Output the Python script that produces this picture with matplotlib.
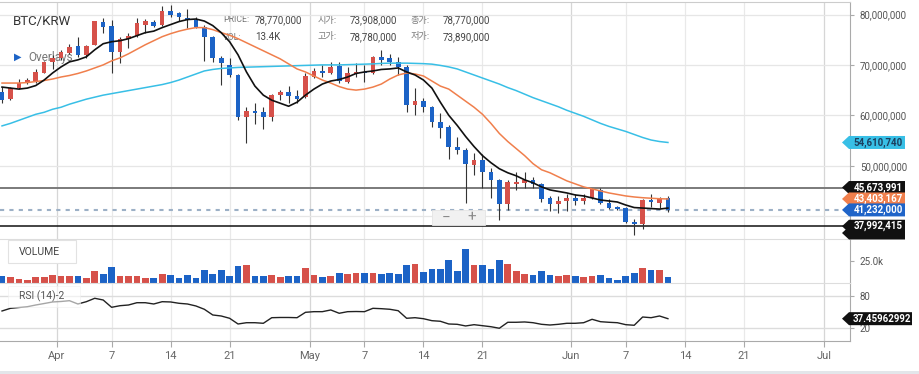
import numpy as np
import pandas as pd
import matplotlib
matplotlib.use('Agg')
import matplotlib.pyplot as plt
from matplotlib.patches import Polygon, Rectangle
from matplotlib.transforms import IdentityTransform

plt.rcParams['font.family'] = ['Roboto', 'DejaVu Sans']
KR = ['Noto Sans CJK KR', 'DejaVu Sans']

# daily candles BTC/KRW, 2021-03-25 .. 2021-06-12, prices in millions of KRW
start = '2021-03-25'
dates = pd.date_range(start, '2021-06-12', freq='D')

opens = [64.7, 63.2, 65.4, 66.4, 66.8, 68.4, 70.6, 71.4, 72.4, 73.8,
         72.0, 73.908, 78.6, 77.8, 72.6, 75.2, 75.8, 78.0, 78.6, 78.0,
         80.6, 80.2, 79.4, 79.0, 77.6, 75.6, 71.4, 70.0, 68.0, 59.6,
         60.8, 60.6, 59.6, 64.0, 64.6, 63.8, 63.6, 67.6, 68.8, 68.4,
         69.8, 66.6, 68.2, 68.5, 68.4, 71.6, 71.4, 70.6, 69.6, 62.0,
         62.8, 61.6, 58.6, 57.6, 53.8, 53.2, 50.2, 51.2, 48.8, 47.2,
         42.4, 46.4, 46.6, 47.2, 46.4, 43.6, 42.4, 43.0, 43.6, 43.0,
         43.6, 45.2, 42.6, 41.8, 41.6, 38.8, 38.4, 43.2, 42.6, 43.6]
highs = [65.6, 65.6, 67.2, 67.4, 69.2, 70.8, 72.0, 73.0, 74.2, 75.6,
         74.0, 78.78, 79.4, 79.0, 75.6, 76.4, 79.4, 79.2, 79.0, 81.6,
         81.8, 80.4, 81.0, 79.6, 78.0, 75.8, 71.8, 71.4, 68.2, 61.6,
         62.4, 61.6, 64.2, 65.0, 65.8, 65.0, 68.4, 69.4, 70.0, 70.6,
         70.6, 69.6, 70.4, 70.0, 71.8, 73.0, 72.2, 71.6, 70.0, 65.4,
         63.4, 61.8, 60.4, 58.0, 55.6, 53.6, 52.6, 52.4, 49.6, 47.4,
         47.2, 48.8, 48.8, 47.8, 46.6, 44.0, 44.0, 44.4, 44.4, 44.4,
         45.6, 45.6, 43.4, 42.0, 41.8, 39.4, 43.4, 44.4, 43.8, 44.0]
lows = [62.4, 63.0, 65.2, 66.3, 66.4, 68.3, 69.2, 71.0, 72.2, 71.6,
        71.4, 73.89, 76.4, 68.4, 70.4, 73.4, 75.6, 76.4, 77.6, 77.8,
        79.6, 78.8, 77.4, 77.4, 70.8, 70.6, 66.0, 67.6, 59.0, 54.6,
        58.2, 57.2, 58.8, 63.0, 62.4, 62.4, 63.4, 67.4, 67.6, 68.2,
        66.4, 66.4, 67.6, 66.6, 68.2, 70.0, 70.0, 68.0, 60.6, 60.0,
        60.6, 57.6, 55.4, 51.4, 52.4, 42.6, 48.2, 45.6, 43.6, 39.2,
        41.2, 45.2, 45.6, 45.6, 42.8, 41.0, 40.6, 41.0, 42.2, 42.4,
        43.4, 42.4, 41.4, 41.2, 38.6, 36.2, 37.4, 41.8, 41.6, 40.8]
closes = [63.0, 65.4, 66.4, 67.0, 68.6, 70.6, 71.4, 72.6, 73.6, 72.0,
          73.8, 78.77, 77.6, 72.6, 75.2, 75.8, 78.4, 78.8, 77.8, 80.6,
          80.0, 79.6, 79.0, 77.6, 75.6, 71.4, 70.4, 68.0, 59.6, 60.8,
          60.4, 59.6, 64.0, 64.6, 63.8, 63.2, 67.8, 68.8, 68.4, 69.6,
          66.8, 68.4, 68.6, 68.3, 71.6, 71.0, 70.6, 69.6, 62.0, 62.8,
          61.6, 58.6, 57.4, 53.8, 53.2, 50.4, 51.2, 48.8, 47.2, 42.4,
          46.8, 46.8, 47.2, 46.4, 43.4, 42.4, 43.0, 43.6, 43.0, 43.6,
          45.4, 42.6, 41.6, 41.4, 38.8, 38.4, 43.2, 42.8, 43.6, 41.232]
volume_k = [8.2, 6.7, 4.5, 3.4, 7.1, 7.1, 9.3, 8.2, 8.2, 8.2,
            6.0, 13.4, 10.4, 18.3, 8.2, 8.2, 8.2, 6.0, 6.0, 10.4,
            9.3, 6.0, 9.3, 6.0, 14.9, 10.4, 14.9, 8.2, 19.4, 20.5,
            8.2, 8.2, 9.3, 7.1, 8.2, 8.2, 17.2, 9.3, 7.1, 8.2,
            11.6, 10.4, 11.6, 11.6, 11.6, 10.4, 11.6, 10.4, 20.5, 21.6,
            12.7, 16.0, 16.0, 26.1, 13.8, 38.4, 20.9, 20.9, 16.0, 26.1,
            22.0, 13.8, 10.4, 9.3, 13.8, 9.3, 8.2, 9.3, 8.2, 7.1,
            8.2, 9.3, 6.0, 3.7, 8.2, 11.6, 17.2, 14.9, 14.9, 7.1]

# overlays
ma_black = [65.6, 65.4, 65.2, 65.4, 65.9, 67.0, 68.4, 69.6, 70.6, 71.0,
            71.6, 73.0, 74.2, 74.6, 74.8, 75.2, 75.8, 76.4, 76.7, 77.4,
            78.0, 78.6, 79.0, 79.1, 78.7, 77.8, 76.4, 74.6, 72.0, 68.6,
            65.8, 64.0, 63.0, 62.4, 61.8, 62.6, 64.0, 65.2, 66.2, 66.8,
            67.1, 67.6, 68.3, 68.6, 68.8, 69.1, 69.2, 69.4, 68.6, 68.0,
            67.0, 65.4, 62.6, 60.0, 58.0, 55.8, 53.8, 52.0, 50.6, 49.4,
            48.6, 48.0, 47.2, 46.6, 45.8, 45.2, 44.9, 44.6, 44.2, 44.0,
            43.6, 43.2, 43.0, 42.8, 42.2, 41.7, 41.6, 41.5, 41.4, 41.6]
ma_orange = [66.4, 66.4, 66.4, 66.5, 66.7, 66.9, 67.2, 67.6, 67.9, 68.3,
             68.8, 69.4, 70.0, 70.8, 71.4, 72.2, 73.1, 74.0, 74.8, 75.6,
             76.2, 76.7, 77.1, 77.4, 77.4, 77.0, 76.4, 75.9, 75.2, 74.4,
             73.6, 72.8, 72.0, 71.2, 70.2, 69.2, 68.6, 67.8, 67.0, 66.4,
             65.7, 65.2, 65.0, 65.2, 65.6, 66.2, 67.2, 68.0, 68.4, 68.2,
             67.8, 66.8, 65.8, 65.2, 64.0, 62.8, 61.6, 60.2, 58.4, 56.4,
             54.8, 53.4, 52.0, 50.4, 49.2, 48.6, 47.8, 47.0, 46.4, 45.8,
             45.4, 45.0, 44.6, 44.3, 44.0, 43.8, 43.65, 43.55, 43.45, 43.403167]
ma_cyan = [57.9, 58.4, 59.0, 59.6, 60.2, 60.6, 61.2, 61.6, 62.2, 62.7,
           63.2, 63.6, 64.0, 64.3, 64.6, 64.9, 65.2, 65.5, 65.8, 66.1,
           66.5, 67.0, 67.6, 68.2, 68.8, 69.1, 69.3, 69.4, 69.5, 69.55,
           69.6, 69.65, 69.7, 69.75, 69.8, 69.85, 69.9, 69.95, 70.0, 70.0,
           70.0, 70.05, 70.1, 70.15, 70.2, 70.3, 70.35, 70.35, 70.35, 70.3,
           70.25, 70.15, 69.9, 69.6, 69.2, 68.6, 68.0, 67.4, 66.8, 66.2,
           65.5, 64.9, 64.2, 63.5, 62.9, 62.3, 61.7, 61.0, 60.4, 59.8,
           59.1, 58.4, 57.8, 57.3, 56.8, 56.2, 55.6, 55.1, 54.8, 54.61074]
rsi = [51.9, 56.9, 58.4, 59.9, 63.1, 65.9, 68.8, 69.7, 71.2, 65.0,
       69.3, 75.7, 72.5, 58.8, 61.8, 63.1, 67.4, 67.4, 65.0, 69.3,
       68.8, 66.3, 65.0, 61.3, 55.1, 44.4, 42.5, 38.2, 27.5, 29.9,
       29.9, 28.8, 39.3, 39.7, 39.7, 39.3, 49.4, 50.6, 50.6, 53.8,
       47.6, 50.6, 50.9, 50.6, 56.9, 56.2, 55.1, 52.4, 38.2, 39.3,
       37.4, 33.7, 32.6, 27.5, 26.9, 23.8, 26.2, 24.3, 22.4, 19.5,
       30.7, 30.7, 31.3, 29.9, 26.9, 25.6, 26.9, 28.8, 28.8, 29.9,
       36.3, 31.8, 30.7, 29.9, 26.2, 25.1, 40.6, 39.3, 42.5, 37.45962992]

levels = [45.673991, 37.992415]   # user drawn horizontal lines
hidden_level = 36.65              # tag sitting behind the 37.99M one
hover = 11                        # candle shown in the info box

price_ticks = [50, 60, 70, 80]    # 40M label sits under the tags
tick_dates = ['2021-04-01', '2021-04-07', '2021-04-14', '2021-04-21',
              '2021-05-01', '2021-05-07', '2021-05-14', '2021-05-21',
              '2021-06-01', '2021-06-07', '2021-06-14', '2021-06-21', '2021-07-01']
tick_labels = ['Apr', '7', '14', '21', 'May', '7', '14', '21', 'Jun', '7', '14', '21', 'Jul']

RED, BLUE = '#d6514a', '#1c63c6'
ORANGE, CYAN = '#f07f4c', '#38bfe6'

W, H = 920, 374
fig = plt.figure(figsize=(W / 100, H / 100), dpi=100)


def rect(top, bottom, right=850):
    return [0, 1 - bottom / H, right / W, (bottom - top) / H]


ax = fig.add_axes(rect(2, 238.5))
axv = fig.add_axes(rect(239, 283.3))
axr = fig.add_axes(rect(283.3, 341))

x = np.arange(len(dates))
o, hi, lo, c = map(np.array, (opens, highs, lows, closes))
cols = np.where(c >= o, RED, BLUE)

t0 = pd.Timestamp(start)
tick_x = []
for d in tick_dates:
    d = pd.Timestamp(d)
    tick_x.append((d - t0).days - (0.5 if d.day == 1 else 0))

for a in (ax, axv, axr):
    a.set_xlim(-0.24, 100.6)
    for tx, tl in zip(tick_x, tick_labels):
        a.axvline(tx, color='#d6d6d6' if tl.isalpha() else '#e9e9e9', lw=0.9, zorder=0)
    a.spines['left'].set_visible(False)
    a.spines['right'].set_color('#aaaaaa')
    a.yaxis.tick_right()
    a.tick_params(axis='y', length=3, color='#aaaaaa', labelsize=7, labelcolor='#555555', pad=4)
    a.tick_params(axis='x', bottom=False, labelbottom=False)

# price panel
ax.set_ylim(35.56, 82.48)
ax.set_yticks(price_ticks, [f'{v * 1e6:,.0f}' for v in price_ticks])
ax.grid(axis='y', color='#e6e6e6', lw=0.9, zorder=0)
ax.axhline(40, color='#e6e6e6', lw=0.9, zorder=0)
ax.spines['bottom'].set_visible(False)
ax.spines['top'].set_color('#cccccc')

ax.vlines(x, lo, hi, color='#333333', lw=0.8, zorder=3)
ax.bar(x, np.maximum(np.abs(c - o), 0.35), bottom=np.minimum(o, c), width=0.55,
       color=cols, lw=0, zorder=4)
ax.plot(x, ma_cyan, color=CYAN, lw=1.1, zorder=5)
ax.plot(x, ma_orange, color=ORANGE, lw=1.1, zorder=5)
ax.plot(x, ma_black, color='#111111', lw=1.2, zorder=6)

ax.axhline(levels[0], color='#7a7a7a', lw=1.4, zorder=2)
ax.axhline(levels[1], color='#111111', lw=1.1, zorder=2)
ax.axhline(closes[-1], color='#9cb0c6', lw=1.5, ls=(0, (2, 2.5)), zorder=2)

# volume panel
axv.bar(x, np.array(volume_k) * 1000, width=0.8, color=cols, lw=0, zorder=3)
axv.set_ylim(0, 49700)
axv.set_yticks([25000], ['25.0k'])
axv.spines['bottom'].set_visible(False)
axv.spines['top'].set_color('#dddddd')

# rsi panel
axr.plot(x, rsi, color='#222222', lw=1.0, zorder=3)
axr.set_ylim(-4.4, 103.8)
axr.set_yticks([20, 80])
axr.grid(axis='y', color='#dcdcdc', lw=1.0, zorder=0)
axr.spines['top'].set_color('#dddddd')
axr.spines['bottom'].set_color('#aaaaaa')
axr.set_xticks(tick_x, tick_labels)
axr.tick_params(axis='x', bottom=True, labelbottom=True, length=4, color='#aaaaaa',
                labelsize=8, labelcolor='#666666', pad=3)


# texts on top of the price panel (under the lines)
def ftext(px, py, s, **kw):
    ax.text(px / W, 1 - py / H, s, transform=fig.transFigure, va='center', zorder=1.5, **kw)


ftext(13, 22, 'BTC/KRW', fontsize=9.5, color='#333333')
ftext(14, 57, '▶', fontsize=7, color=BLUE, family=['DejaVu Sans'])
ftext(28, 57, 'Overlays', fontsize=8.5, color='#777777')

fmt = lambda v: f'{v * 1e6:,.0f}'
info = [(223, 20, 'PRICE:', fmt(closes[hover])), (223, 37, 'VOL:', f'{volume_k[hover]:.1f}K'),
        (318, 20, '시가:', fmt(opens[hover])), (318, 37, '고가:', fmt(highs[hover])),
        (411, 20, '종가:', fmt(closes[hover])), (411, 37, '저가:', fmt(lows[hover]))]
for px, py, lab, val in info:
    if lab[0].isascii():
        ftext(px, py, lab, fontsize=6.3, color='#777777')
    else:
        ftext(px, py, lab, fontsize=6.6, color='#777777', family=KR)
    ftext(px + 32, py, val, fontsize=7, color='#444444')

# label boxes for the sub panels
idt = IdentityTransform()
fig.add_artist(Rectangle((8, H - 263), 68, 23, transform=idt, fc='white', ec='#e2e2e2', lw=0.8))
fig.text(19, H - 252, 'VOLUME', transform=idt, fontsize=7.5, color='#444444', va='center')
fig.add_artist(Rectangle((8, H - 307), 72, 21, transform=idt, fc='white', ec='#eeeeee',
                         lw=0.6, alpha=0.6))
fig.text(19, H - 296, 'RSI (14)-2', transform=idt, fontsize=7.5, color='#555555', va='center')

# zoom buttons
fig.add_artist(Rectangle((432, H - 225), 53, 15, transform=idt, fc='#f1f1f1', ec='#e4e4e4', lw=0.6))
fig.add_artist(Rectangle((458.5, H - 225), 0.8, 15, transform=idt, fc='#dddddd', ec='none'))
fig.text(446, H - 217.5, '−', transform=idt, fontsize=11, color='#8a8a8a', ha='center', va='center')
fig.text(472, H - 217.5, '+', transform=idt, fontsize=11, color='#8a8a8a', ha='center', va='center')


# price tags on the right axis
def tag(a, val, text, fc, tc, right=905):
    y = a.transData.transform((0, val))[1]
    verts = [(842, y), (849, y + 6.5), (right, y + 6.5), (right, y - 6.5), (849, y - 6.5)]
    fig.add_artist(Polygon(verts, closed=True, transform=idt, fc=fc, ec='none'))
    if text:
        fig.text((849 + right) / 2 + 1, y, text, transform=idt, fontsize=7, fontweight='bold',
                 color=tc, ha='center', va='center')


tag(ax, ma_cyan[-1], fmt(ma_cyan[-1]), CYAN, '#1d3f5e')
tag(ax, levels[0], fmt(levels[0]), '#111111', 'white')
tag(ax, ma_orange[-1], fmt(ma_orange[-1]), ORANGE, 'white')
tag(ax, closes[-1], fmt(closes[-1]), '#1f64c8', 'white')
tag(ax, hidden_level, '', '#111111', 'white')
tag(ax, levels[1], fmt(levels[1]), '#111111', 'white')
tag(axr, rsi[-1], f'{rsi[-1]:.8f}', '#111111', 'white', right=912)

fig.add_artist(Rectangle((0, 0), W, 3, transform=idt, fc='#e3e6ea', ec='none'))

fig.savefig('out.png', dpi=100)
